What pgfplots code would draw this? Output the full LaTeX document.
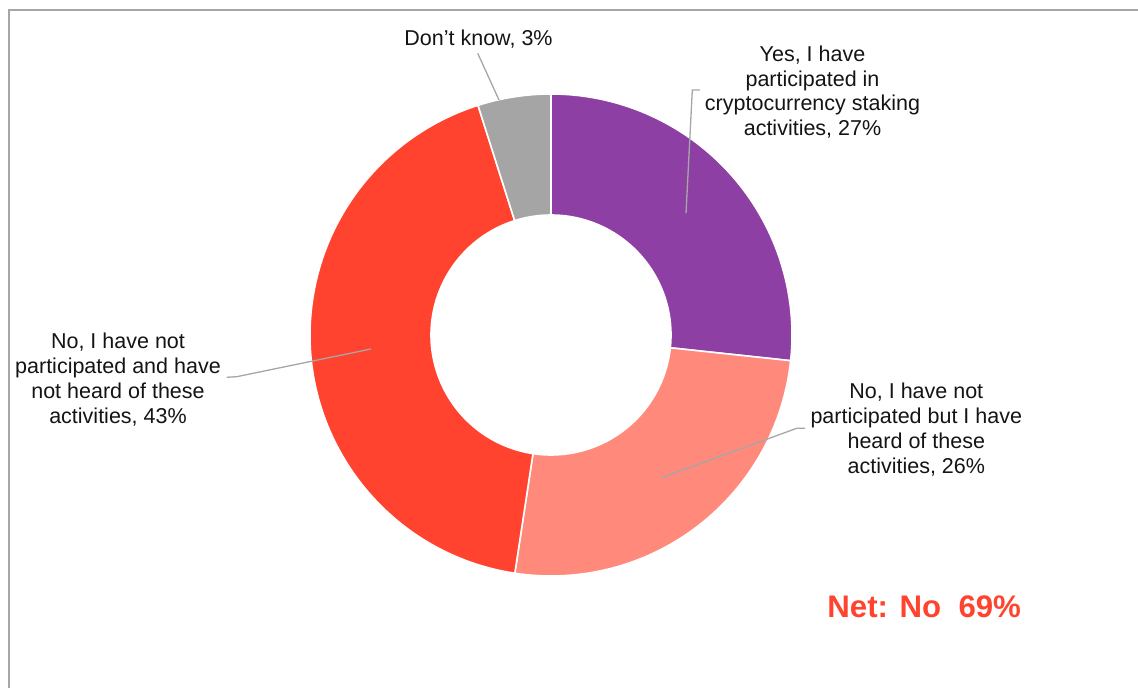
\documentclass[border=0pt]{standalone}
\usepackage{pgfplots}
\pgfplotsset{compat=1.18}
\usepackage{pgfplotstable}
\usepackage{fontspec}
\setmainfont{Liberation Sans}
\usetikzlibrary{calc}
\definecolor{cPurple}{RGB}{142,63,163}
\definecolor{cPink}{RGB}{255,138,123}
\definecolor{cRed}{RGB}{255,67,46}
\definecolor{cGray}{RGB}{165,165,165}
\definecolor{cLine}{RGB}{166,166,166}
\definecolor{cText}{RGB}{20,20,20}

% slice values as drawn (clockwise from 12 o'clock)
\pgfplotstableread{
value
26.7
25.7
42.7
4.9
}\slices

\newcommand\lf{\fontsize{10.75}{12.5}\selectfont}
\def\Ro{120.5pt}
\def\Ri{60pt}
\newcommand\slice[3]{\fill[#1,draw=white,line width=0.8pt] ($(C)+(#2:\Ro)$) arc[start angle=#2,end angle=#3,radius=\Ro] -- ($(C)+(#3:\Ri)$) arc[start angle=#3,end angle=#2,radius=\Ri] -- cycle;}

\begin{document}%
\begin{tikzpicture}
\pgfplotstablegetelem{0}{value}\of\slices\let\vA\pgfplotsretval
\pgfplotstablegetelem{1}{value}\of\slices\let\vB\pgfplotsretval
\pgfplotstablegetelem{2}{value}\of\slices\let\vC\pgfplotsretval
\pgfplotstablegetelem{3}{value}\of\slices\let\vD\pgfplotsretval
\pgfmathsetmacro\aA{90}%
\pgfmathsetmacro\aB{\aA-3.6*\vA}%
\pgfmathsetmacro\aC{\aB-3.6*\vB}%
\pgfmathsetmacro\aD{\aC-3.6*\vC}%
\pgfmathsetmacro\aE{\aD-3.6*\vD}%
\begin{axis}[name=ax,x=0.5pt,y=0.5pt,y dir=reverse,xmin=0,xmax=1138,ymin=0,ymax=688,
  hide axis,clip=false]
\path (axis cs:0,0) rectangle (axis cs:1138,688);
\draw[cLine,line width=1pt] (axis cs:9,688) -- (axis cs:9,10) -- (axis cs:1138,10);
\coordinate (C) at (axis cs:551,335);
\slice{cPurple}{\aA}{\aB}
\slice{cPink}{\aB}{\aC}
\slice{cRed}{\aC}{\aD}
\slice{cGray}{\aD}{\aE}
% leader lines
\draw[cLine,line width=0.65pt] (axis cs:499,100) -- (axis cs:477.7,53.3);
\draw[cLine,line width=0.65pt] (axis cs:686,213.3) -- (axis cs:692.3,90) -- (axis cs:700,90);
\draw[cLine,line width=0.65pt] (axis cs:371,349) -- (axis cs:236.7,376.7) -- (axis cs:226.7,377.3);
\draw[cLine,line width=0.65pt] (axis cs:661.7,477.7) -- (axis cs:796.7,428.3) -- (axis cs:805,428.3);
% labels
\node[anchor=base,font=\lf,text=cText] at (axis cs:478.5,45.7) {Don’t know, 3\%};
\node[anchor=base,font=\lf,text=cText] at (axis cs:812.5,61.7) {Yes, I have};
\node[anchor=base,font=\lf,text=cText] at (axis cs:812.5,86.2) {participated in};
\node[anchor=base,font=\lf,text=cText] at (axis cs:812.5,110.7) {cryptocurrency staking};
\node[anchor=base,font=\lf,text=cText] at (axis cs:812.5,135.2) {activities, 27\%};
\node[anchor=base,font=\lf,text=cText] at (axis cs:118,348.3) {No, I have not};
\node[anchor=base,font=\lf,text=cText] at (axis cs:118,373.3) {participated and have};
\node[anchor=base,font=\lf,text=cText] at (axis cs:118,398.3) {not heard of these};
\node[anchor=base,font=\lf,text=cText] at (axis cs:118,423.3) {activities, 43\%};
\node[anchor=base,font=\lf,text=cText] at (axis cs:916.3,398.3) {No, I have not};
\node[anchor=base,font=\lf,text=cText] at (axis cs:916.3,423.3) {participated but I have};
\node[anchor=base,font=\lf,text=cText] at (axis cs:916.3,448.3) {heard of these};
\node[anchor=base,font=\lf,text=cText] at (axis cs:916.3,473.3) {activities, 26\%};
\node[anchor=base,font=\fontsize{15.6}{18}\selectfont\bfseries,text=cRed] at (axis cs:924.2,617.3) {Net: No\ \ 69\%};
\end{axis}
\pgfresetboundingbox
\useasboundingbox (ax.south west) rectangle (ax.north east);
\end{tikzpicture}%
\end{document}
